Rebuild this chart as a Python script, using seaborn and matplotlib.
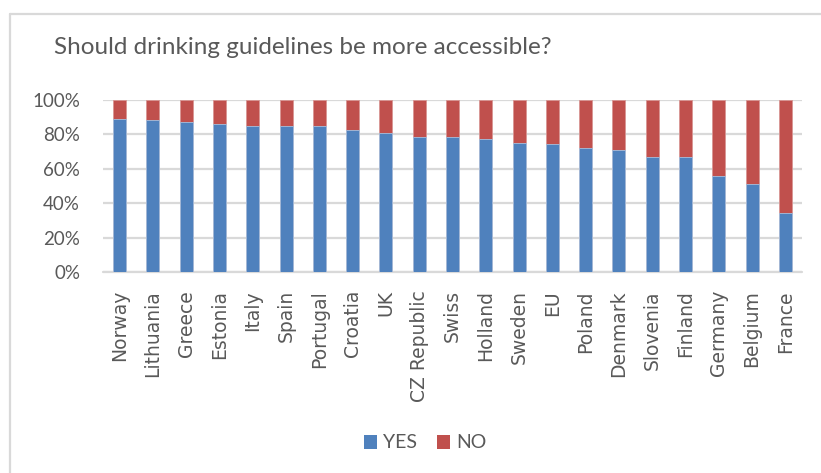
import matplotlib
matplotlib.use("Agg")
import matplotlib.pyplot as plt
import seaborn as sns
import pandas as pd
from matplotlib.lines import Line2D
from matplotlib.patches import Patch

countries = ["Norway", "Lithuania", "Greece", "Estonia", "Italy", "Spain", "Portugal",
             "Croatia", "UK", "CZ Republic", "Swiss", "Holland", "Sweden", "EU",
             "Poland", "Denmark", "Slovenia", "Finland", "Germany", "Belgium", "France"]
yes_pct = [89, 88.6, 87.4, 86.3, 85.1, 85.1, 85.1, 82.5, 81.1, 78.3, 78.3, 77.3,
           75.2, 74.7, 72.2, 71.0, 67.0, 66.7, 55.8, 50.9, 34.3]
no_pct = [100 - v for v in yes_pct]
yticks = [0, 20, 40, 60, 80, 100]
ytick_labels = ["0%", "20%", "40%", "60%", "80%", "100%"]

df = pd.DataFrame({"country": countries, "YES": yes_pct, "NO": no_pct})
df["total"] = df["YES"] + df["NO"]

BLUE = "#4F81BD"
RED = "#C0504D"
TXT = "#595959"
GRID = "#D9D9D9"

sns.set_theme(style="white")
plt.rcParams["font.family"] = ["Lato", "DejaVu Sans"]

fig = plt.figure(figsize=(8.21, 4.73), dpi=100)
ax = fig.add_axes([103 / 821, 1 - 272 / 473, (802 - 103) / 821, (272 - 100) / 473])

sns.barplot(data=df, x="country", y="total", color=RED, width=0.39, ax=ax,
            saturation=1, edgecolor="#d99694", linewidth=0.6, zorder=2)
sns.barplot(data=df, x="country", y="YES", color=BLUE, width=0.39, ax=ax,
            saturation=1, edgecolor="#a7c0de", linewidth=0.6, zorder=3)

ax.set_xlim(-0.5, len(countries) - 0.5)
ax.set_ylim(0, 100)
ax.set_yticks(yticks, ytick_labels, fontsize=13.5, color=TXT, fontfamily=["Lato", "DejaVu Sans"])
ax.set_xticks(range(len(countries)), countries, rotation=90, fontsize=13.5, color=TXT,
              fontfamily=["DejaVu Sans"], ha="center", va="top")
ax.set_xlabel("")
ax.set_ylabel("")
for s in ax.spines.values():
    s.set_visible(False)
ax.grid(axis="y", color=GRID, linewidth=1.6, zorder=0)
ax.set_axisbelow(True)
ax.axhline(0, color=GRID, linewidth=1.6, zorder=1, clip_on=False)

ax.tick_params(axis="y", length=0, pad=16.5)
ax.tick_params(axis="x", length=0, pad=13)

fig.text(54 / 821, 1 - 54 / 473, "Should drinking guidelines be more accessible?",
         fontsize=17.5, color=TXT, ha="left", va="baseline")

handles = [Patch(facecolor=BLUE, edgecolor="none"), Patch(facecolor=RED, edgecolor="none")]
fig.legend(handles, ["YES", "NO"], loc="center", bbox_to_anchor=(425 / 821, 1 - 443 / 473),
           ncol=2, frameon=False, fontsize=14, handlelength=0.7, handleheight=0.7,
           handletextpad=0.3, columnspacing=1.0, labelcolor=TXT)

fig.add_artist(Line2D([10 / 821, 1.0], [1 - 14 / 473, 1 - 14 / 473], color=GRID, linewidth=1.6,
                      transform=fig.transFigure))
fig.add_artist(Line2D([10 / 821, 10 / 821], [1 - 14 / 473, 0.0], color=GRID, linewidth=1.6,
                      transform=fig.transFigure))

fig.savefig("out.png", dpi=100)
